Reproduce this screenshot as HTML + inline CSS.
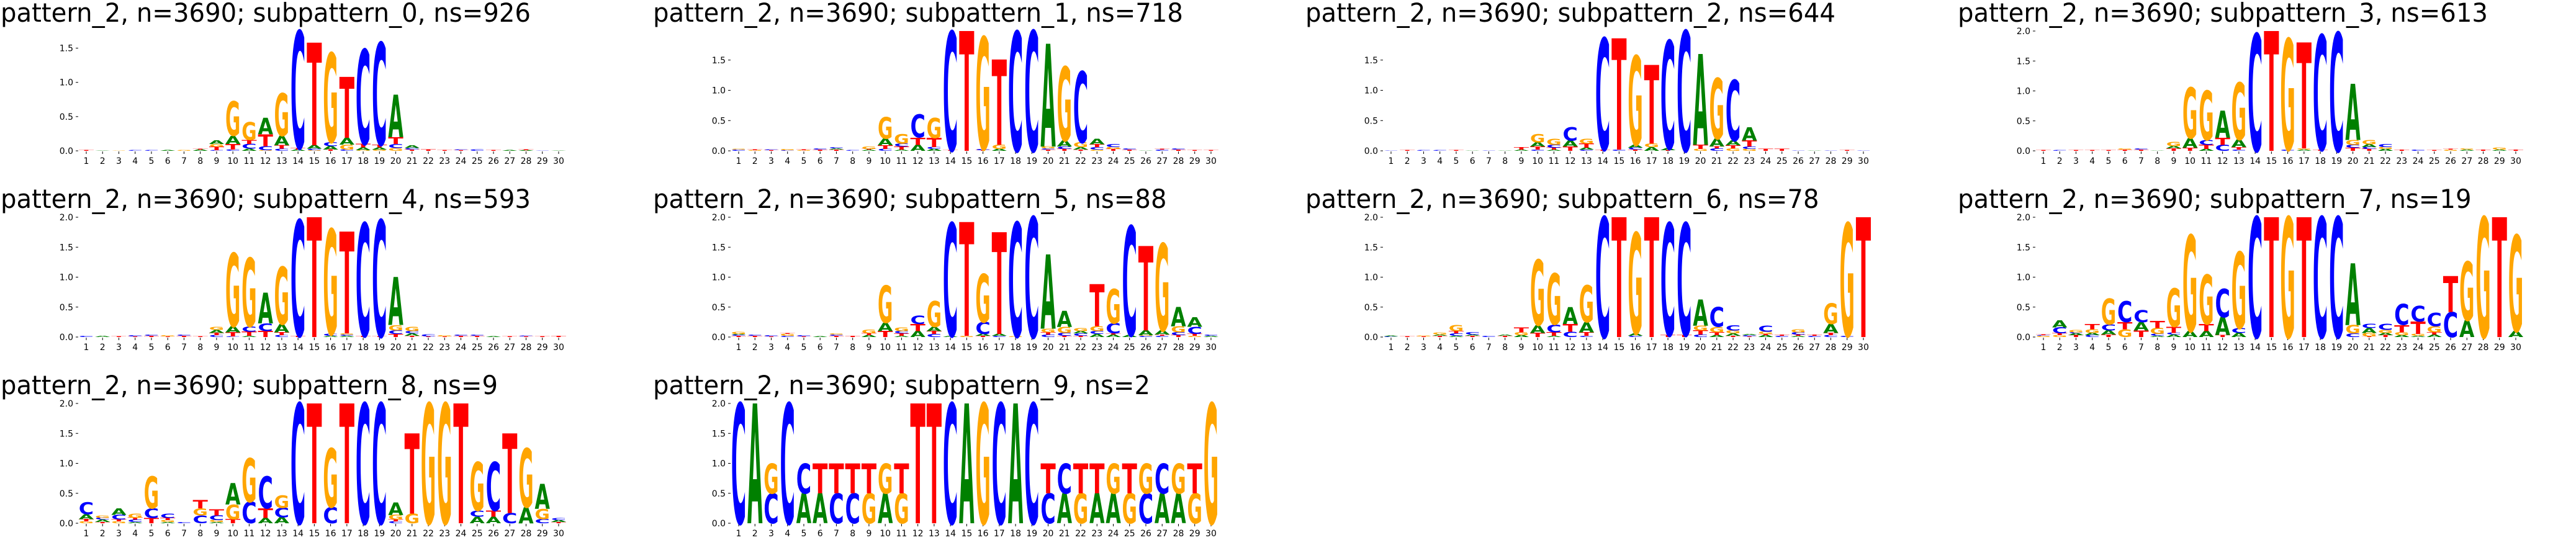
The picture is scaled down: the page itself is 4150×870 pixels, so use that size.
<!DOCTYPE html>
<html><head><meta charset="utf-8">
<style>
html,body{margin:0;padding:0;background:#fff;}
svg{display:block;}
</style></head>
<body>
<svg id="fig" width="4150" height="870" viewBox="0 0 4150 870" xmlns="http://www.w3.org/2000/svg"></svg>
<script>
const subIds = [0,1,2,3,4,5,6,7,8,9];
const nsVals = [926,718,644,613,593,88,78,19,9,2];
const positions = [1,2,3,4,5,6,7,8,9,10,11,12,13,14,15,16,17,18,19,20,21,22,23,24,25,26,27,28,29,30];
const yTicks = [0,0.5,1.0,1.5,2.0];
const p0 = ["T.01","A.005","G.005","C.01","C.01","A.01","G.01","A.02 T.01","C.01 T.05 G.04 A.05","C.02 T.08 A.12 G.5","A.03 C.07 T.06 G.26","G.01 C.06 T.17 A.24","C.03 T.05 A.14 G.62","A.02 T.02 C1.71","G.01 C.02 A.05 T1.5","T.02 A.05 C.06 G1.3","C.02 G.07 A.1 T.89","G.01 A.04 T.05 C1.38","G.02 A.03 T.04 C1.49","G.04 C.06 T.1 A.62","T.02 C.02 A.04","T.02","T.01","T.01 C.01","C.02","T.01","A.01","A.01 T.01","C.005","A.005"];
const p1 = ["C.02 G.01","G.01 T.01","T.01 C.01","C.01 G.02","G.01 T.01","T.02 C.02","T.02 A.02 C.02","C.01","A.02 T.01 G.04","C.03 T.06 A.11 G.35","A.02 T.05 C.05 G.16","A.1 T.12 C.38","A.03 C.03 T.15 G.33","T.01 C1.96","T1.98","T.01 C.02 G1.85","A.03 G.07 T1.41","C1.97","C1.98","T.02 C.02 G.03 A1.7","T.03 C.04 A.1 G1.22","T.02 A.04 G.08 C1.17","G.02 C.04 T.05 A.09","T.03 G.03 C.05","T.02 C.02","A.005","C.02 T.01","T.02 C.02","T.01","T.01"];
const p2 = ["C.005","T.01","C.01","C.01","T.01","A.005","C.005","A.005","A.02 T.04","C.02 T.05 A.07 G.14","A.02 T.03 C.05 G.1","T.07 A.1 C.22","C.02 A.03 T.07 G.08","T.02 C1.84","C.02 T1.84","T.02 C.03 A.05 G1.47","A.06 G.06 T1.3","T.01 A.03 C1.78","C1.98","G.03 T.07 A1.5","C.04 T.03 A.13 G1.0","G.04 T.05 A.08 C1.0","G.03 C.04 T.1 A.22","T.03","T.03","C.005","A.005","C.005","T.01","C.005"];
const p3 = ["T.01","C.01","T.01","T.01","T.01","T.02 G.02","T.02 C.02","A.005","T.04 A.04 G.07","T.05 A.16 G.84","A.03 T.07 C.08 G.82","C.1 T.12 A.45","C.02 T.04 A.13 G.95","C1.95","T2.0","C.02 G1.85","A.02 G.02 T1.77","T.02 C1.91","C1.97","T.05 C.05 G.08 A.94","T.03 C.03 A.05 G.07","A.03 G.03 C.05","T.02","C.02","T.01","G.02 T.01","A.02 G.02","T.02","A.02 G.03","T.02"];
const p4 = ["C.02","A.02","T.01","T.01 C.02","T.02 C.02","T.01 G.02","T.02 C.02","T.01","C.03 T.04 A.05 G.05","C.01 T.07 A.1 G1.22","A.02 T.07 C.09 G1.14","T.1 C.13 A.51","C.03 T.05 A.14 G.96","T.02 C1.93","T2.0","A.02 C.03 G1.75","A.02 C.02 G.02 T1.7","T.02 C1.88","T.01 C1.94","T.05 C.06 G.09 A.8","T.02 A.04 C.04 G.07","T.01 C.03","T.01 G.02","T.02 C.02","T.02 C.02","A.01","T.01","T.01 C.01","T.01","T.02"];
const p5 = ["T.02 C.02 A.01 G.03","T.02 C.02","T.01 C.02","C.02 G.03 T.01","T.01 C.02","A.01","T.02 C.02 G.02","T.02","A.03 T.03 G.06","T.1 A.14 G.62","A.02 T.04 C.04 G.06","A.1 T.12 C.14","C.05 T.05 A.07 G.43","A.02 C1.88","G.02 T1.9","T.02 A.03 C.2 G.8","C.02 A.03 T1.7","G.01 C1.9","C2.0","C.04 T.04 G.06 A1.24","T.02 C.05 G.1 A.27","T.02 C.04 A.04 G.05","A.05 C.05 G.08 T.7","A.04 T.02 C.17 G.57","A.03 C1.82","C.02 G.01 A.08 T1.41","C.02 T.02 A.07 G1.45","T.03 C.05 G.1 A.32","G.02 T.03 C.12 A.16","A.02 C.02"];
const p6 = ["C.01 A.01","T.01","T.01 G.01","T.02 A.02 G.03","A.02 C.04 T.04 G.1","T.02 A.02 C.04","C.02","T.02 A.02","A.03 G.05 T.08","T.07 A.13 G1.09","A.02 T.06 C.13 G.85","C.09 T.13 A.28","C.02 T.06 A.17 G.61","C2.0","T2.0","C.02 A.04 G1.68","T2.0","T.03 C1.87","T.03 C1.87","C.04 T.07 G.08 A.44","A.03 T.05 G.09 C.33","T.02 A.04 G.05 C.09","T.01 C.02 A.02","A.03 T.02 G.04 C.1","C.02 T.02","A.02 T.02 C.04 G.05","C.02 T.02","C.03 T.04 A.15 G.34","C.02 G1.88","T2.0"];
const p7 = ["G.02 C.01 T.01","G.03 T.03 C.1 A.12","T.03 A.03 C.02 G.04","C.03 A.04 G.06 T.09","T.04 A.07 C.1 G.43","G.13 T.12 C.35","T.11 A.14 C.2","A.02 C.03 G.1 T.12","A.04 C.03 T.1 G.64","A.1 G1.6","A.1 T.12 G.82","T.03 A.3 C.47","A.07 C.08 G1.27","C2.0","T2.0","G2.0","T2.0","C2.0","C2.0","C.06 G.14 A1.03","T.01 G.06 A.08 C.07","T.03 A.04 G.05 C.1","A.03 G.05 T.12 C.35","A.02 G.03 T.21 C.26","A.04 T.04 G.1 C.22","C.42 T.6","A.28 G.98","G2.0","T2.0","A.1 G1.6"];
const p8 = ["G.03 T.04 A.08 C.2","T.02 A.04 C.03 G.04","G.03 T.03 C.08 A.11","A.02 C.04 T.03 G.07","T.09 C.16 G.53","A.02 G.03 T.04 C.07","C.02","C.13 G.12 T.14","A.02 G.03 C.08 T.1","T.07 G.24 A.36","C.36 G.73","A.09 T.16 C.53","A.1 C.16 G.21","C2.0","T2.0","C.27 G.98","T2.0","C2.0","C2.0","C.03 T.03 G.08 A.21","G.16 T1.34","G2.0","G2.0","T2.0","A.11 C.1 G.81","A.11 T.1 C.81","C.17 T1.33","A.27 G.98","C.07 G.17 A.42","T.02 A.03 C.03"];
const p9 = ["C2","A2","C.5 G.5","C2","A.5 C.5","A.5 T.5","C.5 T.5","C.5 T.5","G.5 T.5","A.5 G.5","G.5 T.5","T2","T2","C2","A2","G2","C2","A2","C2","C.5 T.5","A.5 C.5","G.5 T.5","A.5 T.5","A.5 G.5","G.5 T.5","C.5 G.5","A.5 C.5","A.5 G.5","G.5 T.5","G2"];
const panels = [p0,p1,p2,p3,p4,p5,p6,p7,p8,p9];

const NS = "http://www.w3.org/2000/svg";
const svg = document.getElementById('fig');
const colors = {A:'#008000',C:'#0000ff',G:'#ffa500',T:'#ff0000'};
const COL_W = 1051, ROW_H = 300, X0 = 139, STEP = 26.24, Y0 = 243, AX_H = 193;

function parseStack(s){
  return s.trim().split(/\s+/).map(t => ({l:t[0], h:parseFloat(t.slice(1))}));
}
function mk(tag, attrs){
  const e = document.createElementNS(NS, tag);
  for (const k in attrs) e.setAttribute(k, attrs[k]);
  return e;
}

panels.forEach((data, i) => {
  const row = Math.floor(i/4), col = i%4;
  const ox = col*COL_W, oy = row*ROW_H;
  const stacks = data.map(parseStack);
  const totals = stacks.map(st => st.reduce((a,b)=>a+b.h,0));
  const ymax = Math.max(...totals);
  const g = mk('g', {});
  
  
  svg.appendChild(g);
  const xOf = p => ox + X0 + (p-1)*STEP;
  const yOf = v => oy + Y0 - v/ymax*AX_H;

  const t = mk('text', {x: ox + 1, y: oy + 35, 'font-family':'"DejaVu Sans","Liberation Sans",sans-serif', 'font-size':42, fill:'#000'});
  
  
  const nsStr = String(nsVals[i]);
  t.setAttribute('textLength', 854 - (3-nsStr.length)*26.5);
  t.setAttribute('lengthAdjust', 'spacingAndGlyphs');
  t.textContent = 'pattern_2, n=3690; subpattern_' + subIds[i] + ', ns=' + nsStr;
  g.appendChild(t);

  yTicks.filter(v => v <= ymax + 1e-6).forEach(v => {
    const y = yOf(v);
    const tk = mk('line', {x1: ox+X0-17, x2: ox+X0-13, y1: y, y2: y, stroke:'#000', 'stroke-width':1});
    
    
    g.appendChild(tk);
    const lb = mk('text', {x: ox+X0-21, y: y+5, 'text-anchor':'end', 'font-family':'"DejaVu Sans","Liberation Sans",sans-serif', 'font-size':14, fill:'#000'});
    
    
    lb.textContent = v.toFixed(1);
    g.appendChild(lb);
  });

  positions.forEach(p => {
    const x = xOf(p);
    const tk = mk('line', {x1:x, x2:x, y1: oy+Y0+1, y2: oy+Y0+5, stroke:'#000', 'stroke-width':1});
    
    
    g.appendChild(tk);
    const lb = mk('text', {x:x, y: oy+Y0+21, 'text-anchor':'middle', 'font-family':'"DejaVu Sans","Liberation Sans",sans-serif', 'font-size':14, fill:'#000'});
    
    
    lb.textContent = p;
    g.appendChild(lb);
  });

  stacks.forEach((st, k) => {
    const p = positions[k];
    const w = STEP*0.93;
    const xl = xOf(p) - w/2;
    let cum = 0;
    st.forEach(item => {
      const yb = yOf(cum);
      cum += item.h;
      const yt = yOf(cum);
      const h = yb - yt;
      if (h <= 0.05) return;
      const lt = mk('text', {x:0, y:0, 'font-family':'"DejaVu Sans","Liberation Sans",sans-serif', 'font-weight':'bold', 'font-size':100, fill: colors[item.l], textLength:100, lengthAdjust:'spacingAndGlyphs',
        transform: 'translate(' + xl.toFixed(2) + ',' + yb.toFixed(2) + ') scale(' + (w/100).toFixed(4) + ',' + (h/72.9).toFixed(5) + ')'});
      
      
      lt.textContent = item.l;
      g.appendChild(lt);
    });
  });
});
</script>
</body></html>
